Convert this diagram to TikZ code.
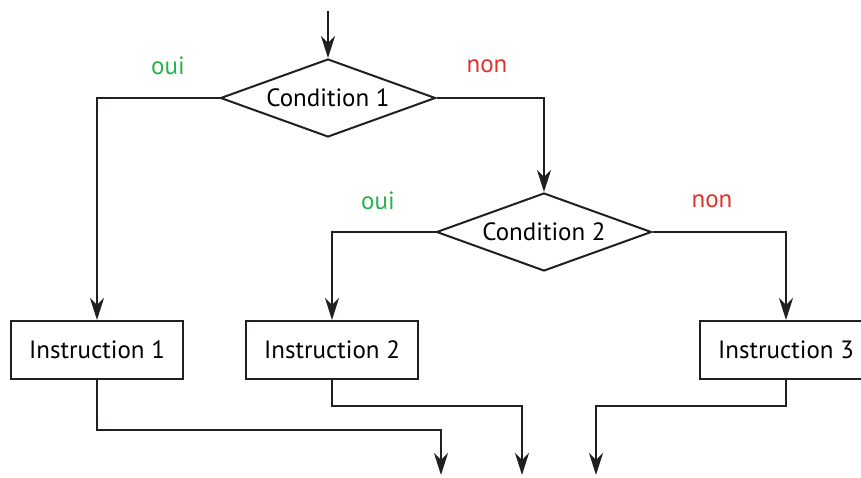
\documentclass[tikz,border=0pt]{standalone}
\usepackage{fontspec}
\setmainfont{PT Sans}
\usepackage{xcolor}
\usepackage{tikz}
\usetikzlibrary{arrows.meta,positioning,shapes.geometric}
\definecolor{ouic}{HTML}{27B24A}
\definecolor{nonc}{HTML}{E0312B}
\definecolor{linec}{HTML}{231F20}
\tikzset{
  ar/.style={-{Stealth[length=22pt,width=14pt,inset=7pt]},line width=2pt,linec},
  box/.style={draw=linec,line width=2pt,minimum width=172pt,minimum height=58pt,inner sep=0pt,font=\fontsize{25}{28}\selectfont},
  cond/.style={diamond,aspect=2.76,draw=linec,line width=2pt,minimum width=215pt,minimum height=78pt,inner sep=0pt,font=\fontsize{25}{28}\selectfont},
  lbl/.style={font=\fontsize{25}{28}\selectfont}
}
\begin{document}
\begin{tikzpicture}[x=1pt,y=-1pt]
\useasboundingbox (0,0) rectangle (861,477);
\node[cond] (c1) at (328,98) {Condition 1};
\node[cond] (c2) at (544,232) {Condition 2};
\node[box] (i1) at (97,350) {Instruction 1};
\node[box] (i2) at (332,350) {Instruction 2};
\node[box] (i3) at (786,350) {Instruction 3};
\node[lbl,ouic] (o1) at (168,66) {oui};
\node[lbl,nonc] (n1) at (487,66) {non};
\node[lbl,ouic] (o2) at (378,201) {oui};
\node[lbl,nonc] (n2) at (712,201) {non};
\coordinate (s0) at (328,11);
\coordinate (e1) at (441,475);
\coordinate (e2) at (522,475);
\coordinate (e3) at (596,475);
\draw[ar] (s0) -- (c1.north);
\draw[ar] (c1.west) -| (i1.north);
\draw[ar] (c1.east) -| (c2.north);
\draw[ar] (c2.west) -| (i2.north);
\draw[ar] (c2.east) -| (i3.north);
% vers la suite
\draw[ar] (i1.south) -- ++(0,50) -| (e1);
\draw[ar] (i2.south) -- ++(0,26) -| (e2);
\draw[ar] (i3.south) -- ++(0,26) -| (e3);
\end{tikzpicture}
\end{document}
